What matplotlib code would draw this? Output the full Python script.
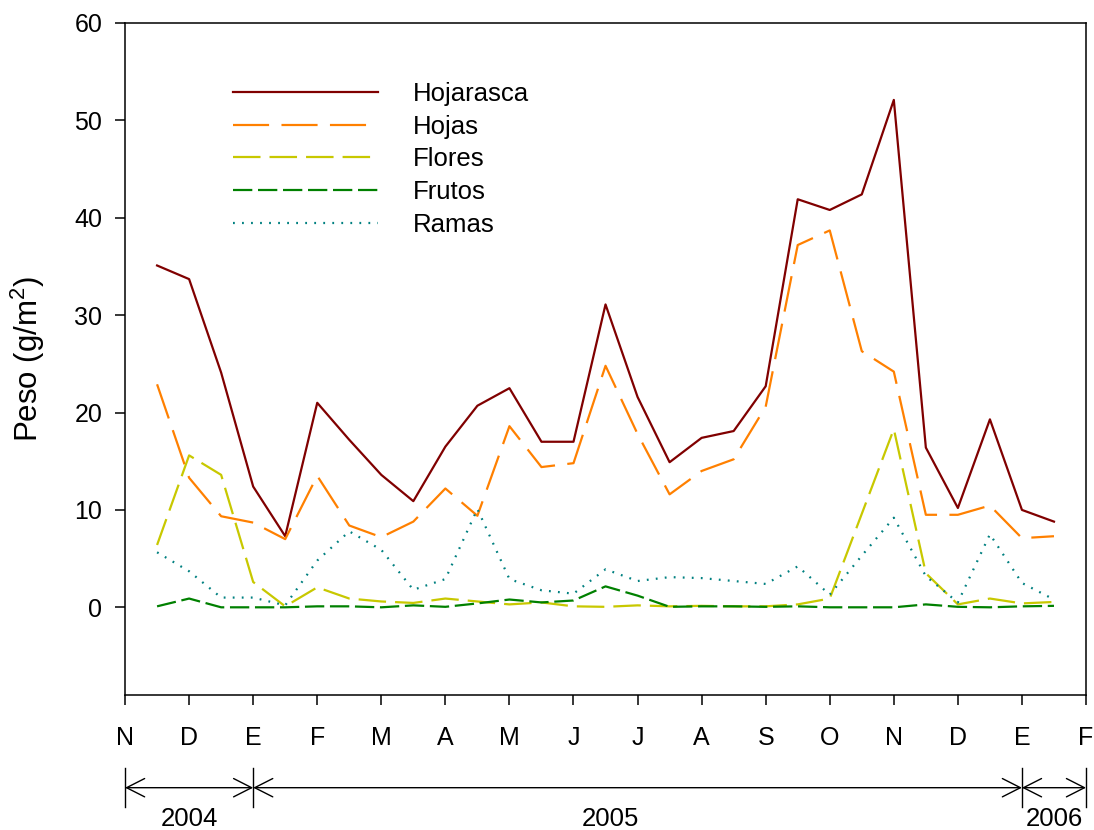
#!/usr/bin/env python3

"""Litterfall dry weight by fraction, collected twice a month (Nov 2004 - Feb 2006)."""

import matplotlib

matplotlib.use("Agg")
import matplotlib.pyplot as plt

# months since 1 November 2004; one tick per month start
MONTH_LABELS = ["N", "D", "E", "F", "M", "A", "M", "J", "J", "A", "S", "O", "N", "D", "E", "F"]
MONTH_TICKS = [0, 1, 2, 3, 4, 5, 6, 7, 8, 9, 10, 11, 12, 13, 14, 15]

# collection dates (mid-month and month end)
SAMPLE_MONTHS = [
    0.5, 1.0, 1.5, 2.0, 2.5, 3.0, 3.5, 4.0, 4.5, 5.0,
    5.5, 6.0, 6.5, 7.0, 7.5, 8.0, 8.5, 9.0, 9.5, 10.0,
    10.5, 11.0, 11.5, 12.0, 12.5, 13.0, 13.5, 14.0, 14.5,
]

# g/m2 per collection
HOJARASCA = [
    35.1, 33.7, 24.1, 12.4, 7.3, 21.0, 17.2, 13.6, 10.9, 16.5,
    20.7, 22.5, 17.0, 17.0, 31.1, 21.6, 14.9, 17.4, 18.1, 22.7,
    41.9, 40.8, 42.4, 52.1, 16.4, 10.2, 19.3, 10.0, 8.8,
]
HOJAS = [
    22.9, 13.3, 9.35, 8.7, 7.0, 13.5, 8.4, 7.2, 8.8, 12.2,
    9.4, 18.6, 14.4, 14.8, 24.8, 17.8, 11.6, 14.0, 15.2, 20.6,
    37.2, 38.7, 26.3, 24.2, 9.5, 9.5, 10.45, 7.1, 7.3,
]
FLORES = [
    6.4, 15.6, 13.6, 2.6, 0.1, 2.05, 0.9, 0.6, 0.45, 0.9,
    0.6, 0.3, 0.5, 0.1, 0.05, 0.2, 0.1, 0.15, 0.1, 0.1,
    0.3, 0.9, 9.6, 18.3, 3.5, 0.3, 0.9, 0.4, 0.55,
]
FRUTOS = [
    0.1, 0.9, 0.0, 0.0, 0.0, 0.1, 0.1, 0.0, 0.2, 0.05,
    0.4, 0.8, 0.5, 0.7, 2.15, 1.2, 0.05, 0.1, 0.1, 0.05,
    0.1, 0.0, 0.0, 0.0, 0.3, 0.05, 0.0, 0.1, 0.15,
]
RAMAS = [
    5.65, 3.7, 1.0, 1.0, 0.2, 4.8, 7.8, 5.9, 1.8, 2.9,
    10.1, 2.9, 1.75, 1.4, 3.9, 2.7, 3.1, 3.0, 2.7, 2.4,
    4.2, 1.3, 5.3, 9.2, 3.2, 0.5, 7.5, 2.5, 0.8,
]

YEARS = ["2004", "2005", "2006"]
YEAR_BOUNDS = [0, 2, 14, 15]
YEAR_LABEL_X = [1.0, 7.57, 14.5]

SERIES = [
    ("Hojarasca", HOJARASCA, "#800000", "-"),
    ("Hojas", HOJAS, "#ff8000", (0, (26, 8.9))),
    ("Flores", FLORES, "#c8c800", (0, (19.8, 6.5))),
    ("Frutos", FRUTOS, "#008000", (0, (13.9, 4.1))),
    ("Ramas", RAMAS, "#008080", (0, (1.3, 5.2))),
]

TEXT_SIZE = 18


def setup_style() -> None:
    plt.rcParams["font.family"] = ["Liberation Sans", "DejaVu Sans"]
    plt.rcParams["mathtext.fontset"] = "custom"
    plt.rcParams["mathtext.rm"] = "Liberation Sans"
    plt.rcParams["mathtext.default"] = "regular"
    plt.rcParams["lines.scale_dashes"] = False
    plt.rcParams["font.size"] = TEXT_SIZE


def draw_year_brackets(ax) -> None:
    trans = ax.get_xaxis_transform()
    for bound in YEAR_BOUNDS:
        ax.plot([bound, bound], [-0.108, -0.167], transform=trans,
                color="black", lw=1.0, clip_on=False)
    for start, end in zip(YEAR_BOUNDS[:-1], YEAR_BOUNDS[1:]):
        ax.annotate(
            "",
            xy=(start, -0.138),
            xytext=(end, -0.138),
            xycoords=trans,
            textcoords=trans,
            annotation_clip=False,
            arrowprops=dict(
                arrowstyle="<->,head_length=0.65,head_width=0.33",
                mutation_scale=20,
                shrinkA=0,
                shrinkB=0,
                lw=1.0,
                color="black",
            ),
        )
    for x, year in zip(YEAR_LABEL_X, YEARS):
        ax.text(x, -0.184, year, transform=trans, ha="center", va="center", fontsize=18.5)


def main() -> None:
    setup_style()
    fig = plt.figure(figsize=(10.94, 8.30), dpi=100)
    ax = fig.add_axes([0.1143, 0.1627, 0.8784, 0.8096])

    for label, values, color, style in SERIES:
        ax.plot(SAMPLE_MONTHS, values, color=color, linestyle=style, lw=1.6, label=label)

    ax.set_xlim(0, 15)
    ax.set_ylim(-9, 60)
    ax.set_xticks(MONTH_TICKS)
    ax.set_xticklabels(MONTH_LABELS)
    ax.set_yticks([0, 10, 20, 30, 40, 50, 60])
    ax.tick_params(axis="x", direction="out", length=7.5, width=1.1, pad=15, labelsize=TEXT_SIZE)
    ax.tick_params(axis="y", direction="out", length=7.5, width=1.1, pad=9, labelsize=TEXT_SIZE)
    for spine in ax.spines.values():
        spine.set_linewidth(1.1)

    ax.set_ylabel("Peso (g/m$^2$)", fontsize=22.5)
    ax.yaxis.set_label_coords(-0.081, 0.5)

    ax.legend(
        loc="upper left",
        bbox_to_anchor=(0.1124, 0.9125),
        frameon=False,
        borderpad=0,
        borderaxespad=0,
        handlelength=5.64,
        handletextpad=1.36,
        labelspacing=0.34,
        fontsize=18.5,
    )

    draw_year_brackets(ax)
    fig.savefig("out.png", dpi=100)


if __name__ == "__main__":
    main()
